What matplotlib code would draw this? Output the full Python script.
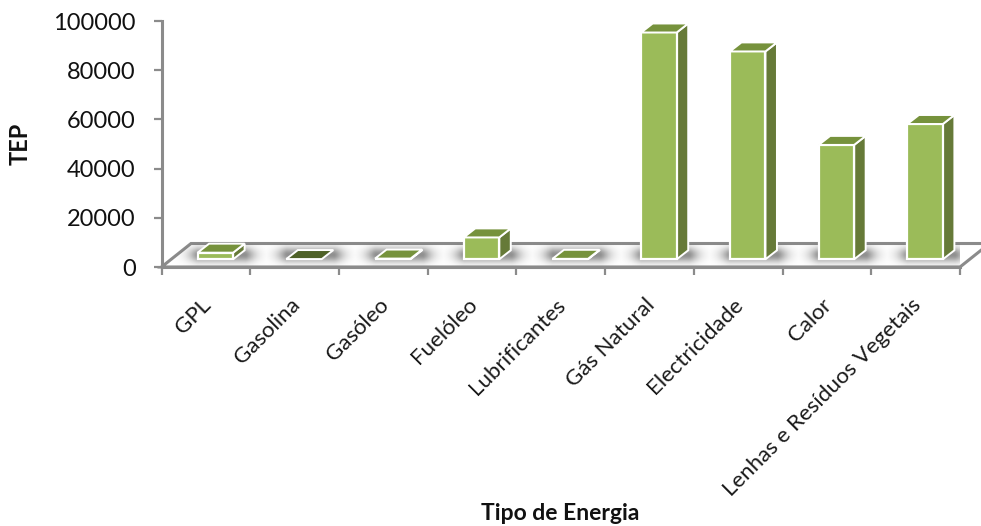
import numpy as np
import matplotlib
matplotlib.use('Agg')
import matplotlib.pyplot as plt
from matplotlib.patches import Polygon

categories = ['GPL', 'Gasolina', 'Gasóleo', 'Fuelóleo', 'Lubrificantes', 'Gás Natural',
              'Electricidade', 'Calor', 'Lenhas e Resíduos Vegetais']
values = [2700, 100, 300, 8900, 200, 92200, 84500, 46500, 55000]
yticks = [0, 20000, 40000, 60000, 80000, 100000]

plt.rcParams['font.family'] = ['Lato', 'DejaVu Sans']

W, H = 981, 526
fig = plt.figure(figsize=(W / 100, H / 100), dpi=100)
ax = fig.add_axes([161.5 / W, (H - 267) / H, (960 - 161.5) / W, (267 - 21) / H])
ax.set_xlim(0, 9)
ax.set_ylim(0, 100000)

# sizes of the fake 3d box, in axis units
px_x = 9 / (960 - 161.5)
px_y = 100000 / (267 - 21)
floor_dx, floor_dy = 29.5 * px_x, 23.5 * px_y
bar_dx, bar_dy = 11.5 * px_x, 9 * px_y
bar_w = 35.5 * px_x
base = 7.7 * px_y
shift = 9.5 * px_x

grey = '#8b8b8b'

# floor
floor = Polygon([(0, 0), (9, 0), (9 + floor_dx, floor_dy), (floor_dx, floor_dy)],
                closed=True, facecolor='white', edgecolor=grey, linewidth=2.2,
                clip_on=False, zorder=1)
ax.add_patch(floor)

centers = np.arange(len(categories)) + 0.5
xs = centers + shift

# soft shadows lying on the floor
gx = np.linspace(0, 9 + floor_dx, 1100)
gy = np.linspace(0, floor_dy, 60)
X, Y = np.meshgrid(gx, gy)
shade = np.zeros_like(X)
for x in xs:
    left, right = x - bar_w / 2, x + bar_w / 2 + bar_dx
    dist = np.maximum(np.maximum(left - X, X - right), 0)
    shade = np.maximum(shade, np.exp(-(dist / (10 * px_x)) ** 1.5))
shade = shade * np.exp(-((Y - 12 * px_y) / (7.5 * px_y)) ** 2) * 0.65
rgba = np.zeros(X.shape + (4,))
rgba[..., :3] = 0.33
rgba[..., 3] = shade
im = ax.imshow(rgba, extent=[0, 9 + floor_dx, 0, floor_dy], origin='lower', aspect='auto',
               interpolation='bilinear', zorder=1.5, clip_on=True)
im.set_clip_path(floor)
ax.set_xlim(0, 9)
ax.set_ylim(0, 100000)

# bars: front face, then side and top
front = ax.bar(xs, values, bar_w, bottom=base, color='#9bbb59', edgecolor='white',
               linewidth=1.6, zorder=3, clip_on=False)
for x, v in zip(xs, values):
    x0, x1 = x - bar_w / 2, x + bar_w / 2
    y1 = base + v
    top_color = '#4f6228' if v < 150 else '#76923c'
    if v >= 150:
        ax.add_patch(Polygon([(x1, base), (x1 + bar_dx, base + bar_dy), (x1 + bar_dx, y1 + bar_dy), (x1, y1)],
                             facecolor='#667a38', edgecolor='white', linewidth=1.4, zorder=2.8, clip_on=False))
    ax.add_patch(Polygon([(x0, y1), (x1, y1), (x1 + bar_dx, y1 + bar_dy), (x0 + bar_dx, y1 + bar_dy)],
                         facecolor=top_color, edgecolor='white', linewidth=1.4, zorder=3.2, clip_on=False))

ax.patch.set_visible(False)
for s in ['top', 'right']:
    ax.spines[s].set_visible(False)
for s in ['left', 'bottom']:
    ax.spines[s].set_color(grey)
    ax.spines[s].set_linewidth(2.2)
    ax.spines[s].set_zorder(2)

ax.set_yticks(yticks)
ax.set_yticklabels([str(t) for t in yticks])
ax.set_xticks(np.arange(0, 10))
ax.set_xticklabels([])
# category labels sit a little left of the slot centre
ax.set_xticks(centers - 5 * px_x, categories, minor=True)
ax.tick_params(axis='y', length=5.5, width=1.6, color=grey, labelsize=17, pad=13, labelcolor='#111111')
ax.tick_params(axis='x', which='major', length=5.5, width=1.6, color=grey)
ax.tick_params(axis='x', which='minor', length=0, pad=20, labelsize=16, labelcolor='#1a1a1a')
for lab in ax.get_xminorticklabels():
    lab.set_rotation(45)
    lab.set_ha('right')
    lab.set_va('top')
    lab.set_rotation_mode('anchor')

fig.text(560 / W, 1 - 513 / H, 'Tipo de Energia', ha='center', va='center', fontsize=16.5,
         fontweight='bold', color='#111111')
fig.text(20 / W, 1 - 144 / H, 'TEP', ha='center', va='center', rotation=90, fontsize=17,
         fontweight='bold', color='#111111')

fig.savefig('out.png', dpi=100)
